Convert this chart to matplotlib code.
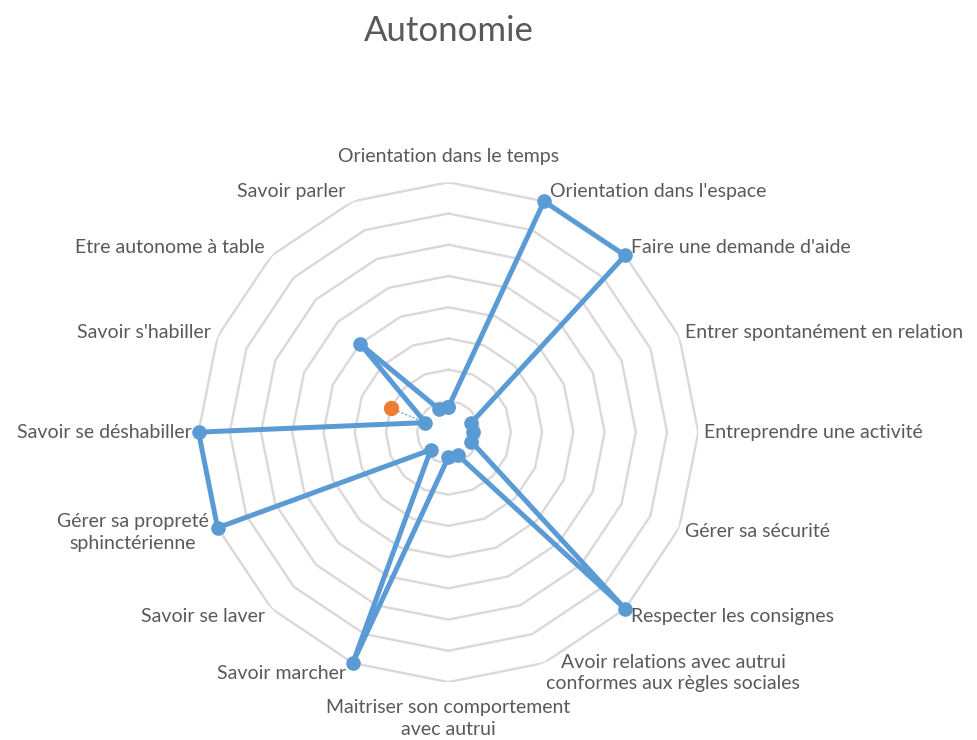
import numpy as np
import matplotlib
matplotlib.use("Agg")
import matplotlib.pyplot as plt

plt.rcParams['font.family'] = ['Lato', 'DejaVu Sans']

# categories clockwise starting at the top
categories = [
    "Orientation dans le temps",
    "Orientation dans l'espace",
    "Faire une demande d'aide",
    "Entrer spontanément en relation",
    "Entreprendre une activité",
    "Gérer sa sécurité",
    "Respecter les consignes",
    "Avoir relations avec autrui\nconformes aux règles sociales",
    "Maitriser son comportement\navec autrui",
    "Savoir marcher",
    "Savoir se laver",
    "Gérer sa propreté\nsphinctérienne",
    "Savoir se déshabiller",
    "Savoir s'habiller",
    "Etre autonome à table",
    "Savoir parler",
]
serie1 = [0.8, 8, 8, 0.8, 0.8, 0.8, 8, 0.8, 0.8, 8, 0.8, 8, 8, 0.8, 4, 0.8]
serie2 = [np.nan] * 13 + [2] + [np.nan] * 2
rings = [1, 2, 3, 4, 5, 6, 7, 8]

BLUE = '#5B9BD5'
ORANGE = '#ED7D31'
GRAY_TXT = '#595959'
FS = 14

n = len(categories)
theta = np.linspace(0, 2 * np.pi, n, endpoint=False)

fig = plt.figure(figsize=(9.78, 7.4), dpi=100)
ax = fig.add_axes([0.203, 0.078, 0.511, 0.676], polar=True)
ax.set_theta_offset(np.pi / 2)
ax.set_theta_direction(-1)
ax.set_ylim(0, rings[-1])
ax.grid(False)
ax.spines['polar'].set_visible(False)
ax.set_xticks([])
ax.set_yticks([])

# polygon grid like excel
closed = np.append(theta, theta[0])
for r in rings:
    ax.plot(closed, [r] * (n + 1), color='#D9D9D9', lw=1.7, zorder=1)

# series
v1 = serie1 + serie1[:1]
ax.plot(closed, v1, color=BLUE, lw=3.6, marker='o', ms=9.5, zorder=3, clip_on=False)

i2 = 13
ax.plot([theta[i2], theta[i2]], [serie2[i2], serie1[i2]], color=BLUE, lw=0.8,
        ls=(0, (2, 1.5)), zorder=2)
ax.plot(theta, serie2, color=ORANGE, marker='o', ms=10, lw=0, zorder=4)

# labels
for k, (t, lab) in enumerate(zip(theta, categories)):
    s, c = np.sin(t), np.cos(t)
    if k == 7:
        ax.annotate(lab, xy=(t, rings[-1]), xytext=(2, -10), textcoords='offset pixels',
                    ha='left', va='center', multialignment='center',
                    fontsize=FS, color=GRAY_TXT, linespacing=1.35)
        continue
    if k == 8:
        ax.annotate(lab, xy=(t, rings[-1]), xytext=(0, -17), textcoords='offset pixels',
                    ha='center', va='top', multialignment='center',
                    fontsize=FS, color=GRAY_TXT, linespacing=1.35)
        continue
    if k == 11:
        ax.annotate(lab, xy=(t, rings[-1]), xytext=(-9, -5), textcoords='offset pixels',
                    ha='right', va='center', multialignment='center',
                    fontsize=FS, color=GRAY_TXT, linespacing=1.35)
        continue
    if abs(s) < 1e-6:
        ha, dx = 'center', 0
        dy = 26 if c > 0 else -30
    elif s > 0:
        ha, dx = 'left', 6
        dy = 11 * c
    else:
        ha, dx = 'right', -7
        dy = 11 * c
    ax.annotate(lab, xy=(t, rings[-1]), xytext=(dx, dy), textcoords='offset pixels',
                ha=ha, va='center', fontsize=FS, color=GRAY_TXT)

fig.text(0.459, 0.958, "Autonomie", ha='center', va='center', fontsize=25, color=GRAY_TXT)

fig.savefig("out.png", dpi=100)
